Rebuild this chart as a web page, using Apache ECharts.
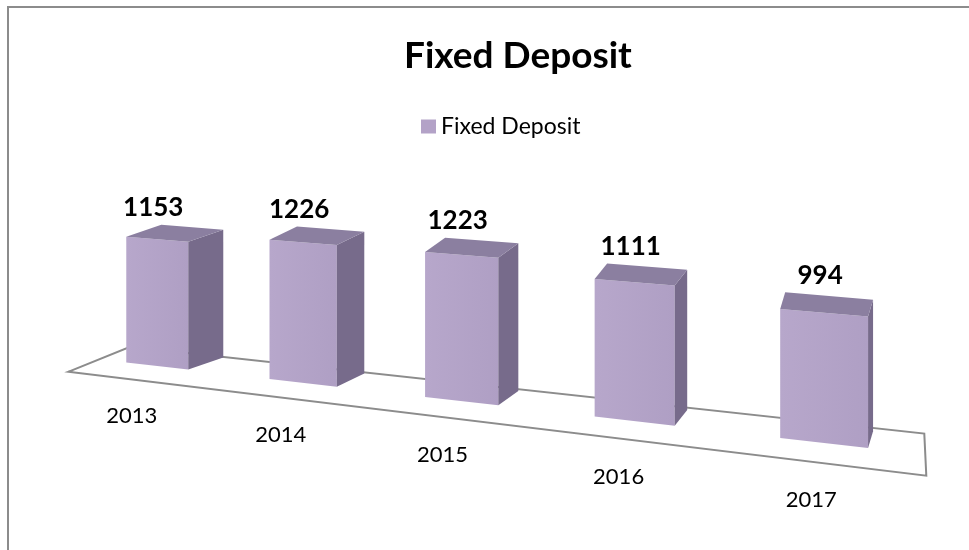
<!DOCTYPE html>
<html>
<head>
    <meta charset="UTF-8">
    <title>Fixed Deposit</title>
    <script type="text/javascript" src="https://cdn.jsdelivr.net/npm/echarts@6/dist/echarts.min.js"></script>
</head>
<body style="margin: 0;overflow: hidden;background: #fff;">
<div id="chart" style="width: 969px;height: 550px;"></div>
<script type="text/javascript">
    var categories = ['2013', '2014', '2015', '2016', '2017'];
    var deposits = [1153, 1226, 1223, 1111, 994];
    var seriesName = 'Fixed Deposit';

    // perspective look of the excel 3d column chart
    var FORESHORT = 0.04;
    var DROP = 16.15;
    var HALF_W = 31;
    var FLOOR_L = -0.42, FLOOR_R = 4.5;

    function project(gx, h, x0, y0, step) {
        var u = (gx - x0) / step;
        var s = 1 / (1 - FORESHORT * u);
        return [x0 + (gx - x0) * s, y0 + DROP * u * s - h * s];
    }
    function barDepth(u) {
        return [35 - 7.5 * u, -12 - 1.2 * u];
    }
    function floorDepth(u) {
        var t = (u - FLOOR_L) / (FLOOR_R - FLOOR_L);
        return [62 - 64 * t, -25 - 17 * t];
    }
    function add(p, d, k) {
        return [p[0] + d[0] * k, p[1] + d[1] * k];
    }

    function renderFloor(params, api) {
        var base = api.coord([0, 0]);
        var step = api.size([1, 0])[0];
        var x0 = base[0], y0 = base[1];
        var pl = project(x0 + FLOOR_L * step, 0, x0, y0, step);
        var pr = project(x0 + FLOOR_R * step, 0, x0, y0, step);
        var dl = floorDepth(FLOOR_L), dr = floorDepth(FLOOR_R);
        return {
            type: 'polygon',
            shape: {points: [add(pl, dl, -0.5), add(pl, dl, 0.5), add(pr, dr, 0.5), add(pr, dr, -0.5)]},
            style: {fill: '#fff', stroke: '#8c8c8c', lineWidth: 2},
            silent: true
        };
    }

    function renderBar(params, api) {
        var i = api.value(0);
        var base = api.coord([0, 0]);
        var step = api.size([1, 0])[0];
        var x0 = base[0], y0 = base[1];
        var gx = api.coord([i, 0])[0];
        var h = y0 - api.coord([i, api.value(1)])[1];
        var u = (gx - x0) / step;
        var d = barDepth(u);
        var lb = project(gx - HALF_W, 0, x0, y0, step);
        var rb = project(gx + HALF_W, 0, x0, y0, step);
        var rt = project(gx + HALF_W, h, x0, y0, step);
        var lt = project(gx - HALF_W, h, x0, y0, step);
        var fd = floorDepth(u);
        var foot = add(project(gx, 0, x0, y0, step), fd, -0.5);
        return {
            type: 'group',
            children: [
                {
                    type: 'polygon',
                    shape: {points: [lb, rb, rt, lt]},
                    style: {
                        fill: new echarts.graphic.LinearGradient(0, 0, 1, 0, [
                            {offset: 0, color: '#b7a7cb'},
                            {offset: 1, color: '#af9fc4'}
                        ])
                    }
                },
                {
                    type: 'polygon',
                    shape: {points: [rb, add(rb, d, 1), add(rt, d, 1), rt]},
                    style: {fill: '#776b8b'}
                },
                {
                    type: 'polygon',
                    shape: {points: [lt, rt, add(rt, d, 1), add(lt, d, 1)]},
                    style: {fill: '#8b7fa0'}
                },
                {
                    type: 'text',
                    x: (lt[0] + rt[0]) / 2 - 4,
                    y: Math.min(lt[1], rt[1]) + d[1] - 4,
                    style: {
                        text: String(api.value(1)),
                        fill: '#000',
                        font: 'bold 26px Lato',
                        align: 'center',
                        verticalAlign: 'bottom'
                    }
                },
                {
                    type: 'text',
                    x: foot[0] + 3 - 3.3 * u,
                    y: foot[1] + 37,
                    style: {
                        text: categories[i],
                        fill: '#000',
                        font: '22px Lato',
                        align: 'center',
                        verticalAlign: 'middle'
                    }
                }
            ]
        };
    }

    var barData = deposits.map(function (v, i) {
        return [i, v];
    });

    var chart = echarts.init(document.getElementById('chart'));
    var option = {
        backgroundColor: '#fff',
        animation: false,
        title: {
            text: 'Fixed Deposit',
            left: 399,
            top: 33,
            textStyle: {
                fontFamily: 'Lato',
                fontSize: 37,
                fontWeight: 'bold',
                color: '#000'
            }
        },
        legend: {
            top: 110,
            left: 416,
            icon: 'rect',
            itemWidth: 15,
            itemHeight: 14,
            itemGap: 6,
            textStyle: {fontFamily: 'Lato', fontSize: 23, color: '#000'},
            data: [seriesName]
        },
        graphic: [{
            type: 'rect',
            shape: {x: 8, y: 7, width: 1200, height: 800},
            style: {fill: 'none', stroke: '#8c8c8c', lineWidth: 2},
            silent: true
        }],
        grid: {left: 87, right: 182, top: 146, bottom: 184},
        xAxis: {
            type: 'category',
            data: categories,
            show: false
        },
        yAxis: {
            type: 'value',
            min: 0,
            max: 2000,
            show: false
        },
        series: [
            {
                name: 'floor',
                type: 'custom',
                renderItem: renderFloor,
                data: [[0, 0]],
                silent: true,
                z: 1
            },
            {
                name: seriesName,
                type: 'custom',
                renderItem: renderBar,
                itemStyle: {color: '#b3a2c7'},
                data: barData,
                z: 2
            }
        ]
    };
    chart.setOption(option);
</script>
</body>
</html>
